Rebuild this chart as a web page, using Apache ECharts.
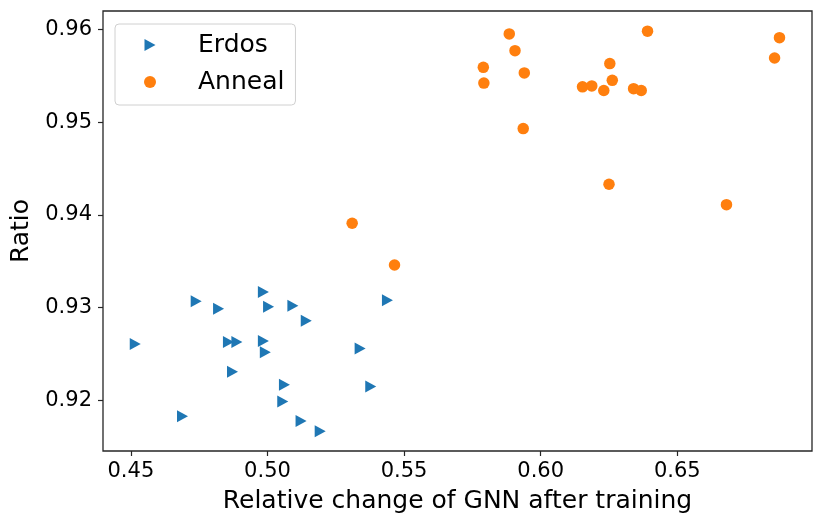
<!DOCTYPE html>
<html>
<head>
<meta charset="utf-8">
<script src="https://cdn.jsdelivr.net/npm/echarts@6/dist/echarts.min.js"></script>
<style>
html,body{margin:0;padding:0;background:#fff;}
#chart{width:823px;height:526px;}
</style>
</head>
<body>
<div id="chart"></div>
<script>
// Erdos series: [relative change, ratio]
const erdosX = [0.4516, 0.4739, 0.4821, 0.4985, 0.5004, 0.5093, 0.5142, 0.5439, 0.4857, 0.4888,
                0.4985, 0.4992, 0.5339, 0.4872, 0.5062, 0.5378, 0.5056, 0.4689, 0.5123, 0.5193];
const erdosY = [0.9261, 0.9307, 0.9299, 0.9317, 0.9301, 0.9302, 0.9286, 0.9308, 0.9263, 0.9263,
                0.9264, 0.9252, 0.9256, 0.9231, 0.9217, 0.9215, 0.9199, 0.9183, 0.9178, 0.9167];
// Anneal series
const annealX = [0.5885, 0.5906, 0.5790, 0.5792, 0.5940, 0.5936, 0.6391, 0.6253, 0.6262, 0.6153,
                 0.6187, 0.6231, 0.6340, 0.6368, 0.6874, 0.6856, 0.6250, 0.6680, 0.5310, 0.5465];
const annealY = [0.9595, 0.9577, 0.9559, 0.9542, 0.9553, 0.9493, 0.9598, 0.9563, 0.9545, 0.9538,
                 0.9539, 0.9534, 0.9536, 0.9534, 0.9591, 0.9569, 0.9433, 0.9411, 0.9391, 0.9346];
const xTicks = [0.45, 0.50, 0.55, 0.60, 0.65];
const yTicks = [0.92, 0.93, 0.94, 0.95, 0.96];
const seriesNames = ['Erdos', 'Anneal'];
const xName = 'Relative change of GNN after training';
const yName = 'Ratio';

const zip = (a, b) => a.map((v, i) => [v, b[i]]);
const FONT = 'DejaVu Sans';

const chart = echarts.init(document.getElementById('chart'), null, {renderer: 'canvas'});
chart.setOption({
  animation: false,
  backgroundColor: '#ffffff',
  grid: {
    left: 103, right: 11, top: 11, bottom: 75,
    show: true, borderColor: '#262626', borderWidth: 1.3, backgroundColor: 'transparent'
  },
  legend: {
    orient: 'vertical',
    left: 115, top: 24,
    padding: [8, 11, 10, 29],
    itemGap: 11,
    itemWidth: 12, itemHeight: 12,
    backgroundColor: '#ffffff',
    borderColor: '#d0d0d0', borderWidth: 1, borderRadius: 4,
    textStyle: {fontFamily: FONT, fontSize: 25, color: '#000', lineHeight: 26, padding: [0, 0, 0, 37]},
    data: [
      {name: seriesNames[0], icon: 'path://M0,0 L11,6 L0,12 Z'},
      {name: seriesNames[1], icon: 'circle'}
    ]
  },
  xAxis: {
    type: 'value',
    min: 0.4398, max: 0.6993,
    name: xName, nameLocation: 'middle', nameGap: 38,
    nameTextStyle: {fontFamily: FONT, fontSize: 25, color: '#000'},
    axisLine: {show: false},
    splitLine: {show: false},
    axisTick: {show: true, length: 5, inside: false, customValues: xTicks, lineStyle: {color: '#262626', width: 1.2}},
    axisLabel: {customValues: xTicks, margin: 10, fontFamily: FONT, fontSize: 21, color: '#000',
      formatter: v => v.toFixed(2)}
  },
  yAxis: {
    type: 'value',
    min: 0.91456, max: 0.96197,
    name: yName, nameLocation: 'middle', nameGap: 66, nameRotate: 90,
    nameTextStyle: {fontFamily: FONT, fontSize: 25, color: '#000'},
    axisLine: {show: false},
    splitLine: {show: false},
    axisTick: {show: true, length: 5, inside: false, customValues: yTicks, lineStyle: {color: '#262626', width: 1.2}},
    axisLabel: {customValues: yTicks, margin: 11, fontFamily: FONT, fontSize: 21, color: '#000',
      formatter: v => v.toFixed(2)}
  },
  series: [
    {
      name: seriesNames[0], type: 'scatter',
      symbol: 'triangle', symbolRotate: -90, symbolSize: [12, 11],
      itemStyle: {color: '#1f77b4', opacity: 1},
      data: zip(erdosX, erdosY)
    },
    {
      name: seriesNames[1], type: 'scatter',
      symbol: 'circle', symbolSize: 11.5,
      itemStyle: {color: '#ff7f0e', opacity: 1},
      data: zip(annealX, annealY)
    }
  ]
});
</script>
</body>
</html>
